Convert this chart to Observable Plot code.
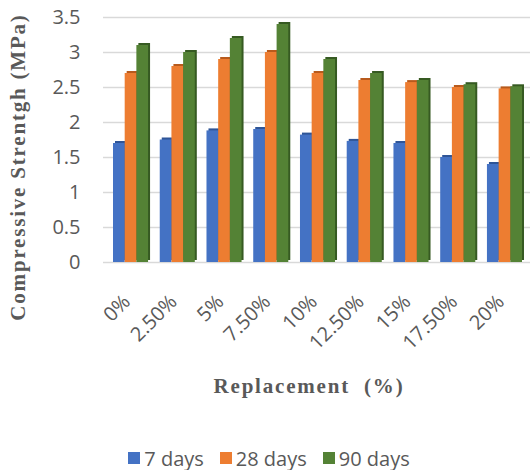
<!DOCTYPE html>
<html><head><meta charset="utf-8">
<script src="https://cdn.jsdelivr.net/npm/d3@7"></script>
<script src="https://cdn.jsdelivr.net/npm/@observablehq/plot@0.6"></script>
<style>
body{margin:0;background:#fff;}
#legend{display:flex;justify-content:center;align-items:center;height:28px;font:20px "Open Sans";color:#595959;padding-left:6px}
#legend .item{display:flex;align-items:center;margin:0 8px}
#legend .sw{display:inline-block;width:12px;height:12px;margin-right:4px}
</style></head><body><div id="chart"></div><div id="legend"></div>
<script>
const categories = ["0%","2.50%","5%","7.50%","10%","12.50%","15%","17.50%","20%"];
const series = ["7 days","28 days","90 days"];
const days7 = [1.7,1.75,1.88,1.9,1.82,1.73,1.7,1.5,1.4];
const days28 = [2.7,2.8,2.9,3.0,2.7,2.6,2.57,2.5,2.48];
const days90 = [3.1,3.0,3.2,3.4,2.9,2.7,2.6,2.54,2.51];
const yTicks = [0,0.5,1,1.5,2,2.5,3,3.5];
const colors = ["#4472C4","#ED7D31","#548235"];
const sideColors = ["#2F5597","#B85A1C","#365A22"];
const yTitle = "Compressive Strentgh (MPa)";
const xTitle = "Replacement  (%)";

const vals = [days7, days28, days90];
const data = categories.flatMap((c,i)=>series.map((s,j)=>({cat:c, s, j, key:c+"|"+s, v: vals[j][i]})));
const domain = categories.flatMap((c,i)=>[...series.map(s=>c+"|"+s), ...(i < categories.length-1 ? [c+"|gap"] : [])]);

const titleFont = '"Liberation Serif","Times New Roman",serif';
const plot = Plot.plot({
  width:532, height:444, marginLeft:103, marginRight:2, marginTop:17, marginBottom:182,
  style:{fontFamily:'"Open Sans"', fontSize:"20px", color:"#595959", background:"#fff", overflow:"visible"},
  x:{domain, padding:0, round:false, insetLeft:10, insetRight:8, axis:null},
  y:{domain:[0,3.5], axis:null},
  color:{domain:series, range:colors},
  marks:[
    Plot.gridY(yTicks, {stroke:"#d9d9d9", strokeOpacity:1, strokeWidth:1.3}),
    Plot.axisY(yTicks, {tickSize:0, tickPadding:23, tickFormat:d=>String(d), label:null, fill:"#595959"}),
    Plot.axisX(categories.map(c=>c+"|"+series[1]), {tickSize:0, tickRotate:-45, tickFormat:k=>k.split("|")[0], tickPadding:36, dx:-4, label:null, fill:"#595959"}),
    Plot.barY(data, {x:"key", y:"v", fill:d=>sideColors[d.j], dx:2, dy:-2}),
    Plot.barY(data, {x:"key", y:"v", fill:"s"}),
    Plot.text([yTitle], {text:d=>d, frameAnchor:"left", textAnchor:"middle", lineAnchor:"middle", rotate:-90, dx:-85, dy:27, fontFamily:titleFont, fontWeight:"bold", fontSize:21, fill:"#595959"}),
    Plot.text([xTitle], {text:d=>d, frameAnchor:"bottom", textAnchor:"middle", lineAnchor:"middle", dx:-8, dy:124, fontFamily:titleFont, fontWeight:"bold", fontSize:21, fill:"#595959"})
  ]
});
document.getElementById("chart").appendChild(plot);
d3.select(plot).selectAll("text").filter(function(){ const t=this.textContent; return t===yTitle || t===xTitle; })
  .style("letter-spacing","1.8px").style("white-space","pre");

const lg = d3.select("#legend");
series.forEach((s,i)=>{
  const it = lg.append("div").attr("class","item");
  it.append("span").attr("class","sw").style("background",colors[i]);
  it.append("span").text(s);
});
</script></body></html>
